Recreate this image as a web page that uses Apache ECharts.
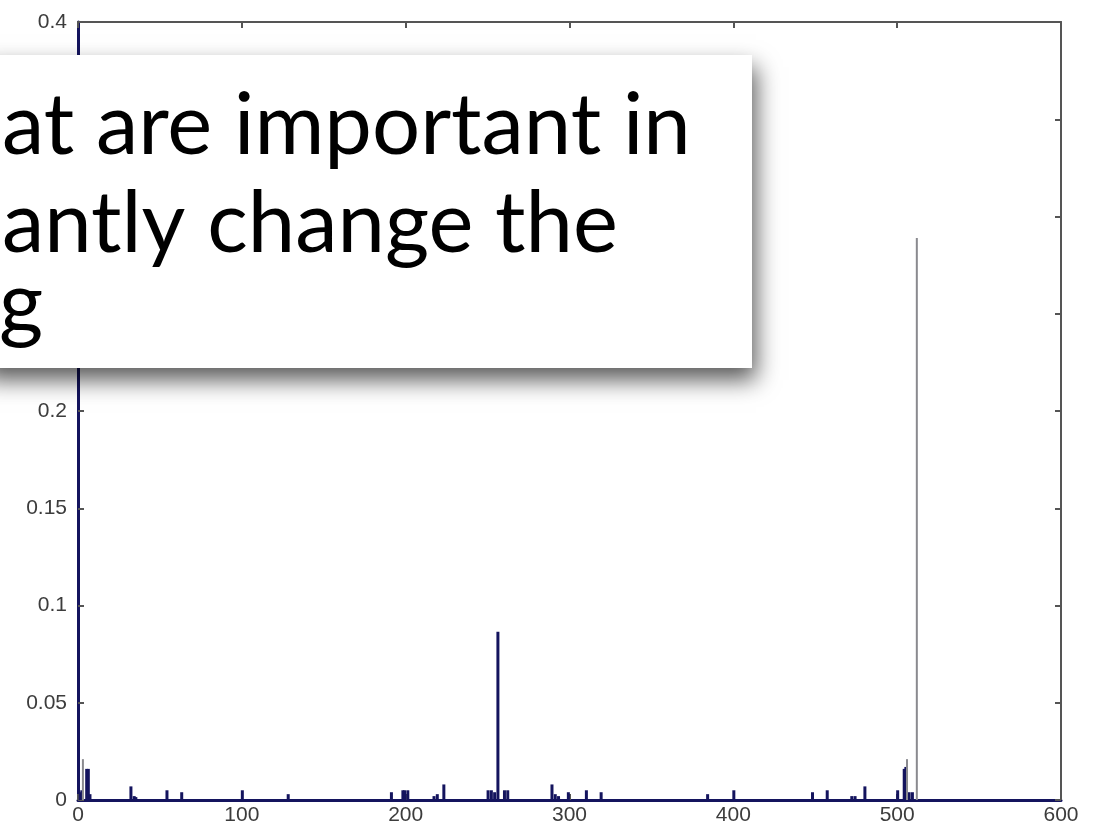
<!DOCTYPE html>
<html>
<head>
<meta charset="utf-8">
<script src="https://cdn.jsdelivr.net/npm/echarts@6/dist/echarts.min.js"></script>
<style>
  html, body { margin: 0; padding: 0; background: #ffffff; }
  #chart { width: 1099px; height: 831px; }
</style>
</head>
<body>
<div id="chart"></div>
<script>
// Histogram bins (bin index, weight) drawn in navy
const binIndex = [1, 2, 5, 6, 7, 32, 34, 35, 54, 63, 100, 128, 191, 198, 199, 201, 217, 219, 223,
  250, 252, 254, 256, 260, 262, 289, 291, 293, 299, 310, 319, 384, 400, 448, 457, 472, 474, 480,
  500, 504, 505, 507, 509];
const binValue = [0.004, 0.005, 0.016, 0.016, 0.003, 0.007, 0.002, 0.0015, 0.005, 0.004, 0.005, 0.003, 0.004, 0.005, 0.005, 0.005, 0.002, 0.003, 0.008,
  0.005, 0.005, 0.004, 0.0865, 0.005, 0.005, 0.008, 0.003, 0.002, 0.004, 0.005, 0.004, 0.003, 0.005, 0.004, 0.005, 0.002, 0.002, 0.007,
  0.005, 0.016, 0.017, 0.004, 0.004];
// Single-bin spikes that render as thin grey lines
const spikeIndex = [3, 506, 512];
const spikeValue = [0.021, 0.021, 0.289];

// Axis ticks
const xTicks = [0, 100, 200, 300, 400, 500, 600];
const yTicks = [0, 0.05, 0.1, 0.15, 0.2, 0.25, 0.3, 0.35, 0.4];

// Overlay slide text
const slideLines = ['at are important in', 'antly change the', 'g'];

const navy = '#14145e';
const frame = '#555555';
const labelFont = { color: '#3c3c3c', fontSize: 21, fontFamily: 'Liberation Sans' };
const slideFont = '400 85px Lato';

const chart = echarts.init(document.getElementById('chart'), null, { renderer: 'canvas' });

const xMin = xTicks[0], xMax = xTicks[xTicks.length - 1];
const yMin = yTicks[0], yMax = yTicks[yTicks.length - 1];

chart.setOption({
  backgroundColor: '#ffffff',
  animation: false,
  grid: { left: 78, right: 38, top: 22, bottom: 31 },
  xAxis: [
    {
      type: 'value', min: xMin, max: xMax, interval: 100, position: 'bottom',
      axisLine: { show: true, onZero: false, lineStyle: { color: navy, width: 3 } },
      axisTick: { show: true, inside: true, length: 6, lineStyle: { color: frame, width: 2 } },
      axisLabel: Object.assign({ margin: 5 }, labelFont),
      splitLine: { show: false }
    },
    {
      type: 'value', min: xMin, max: xMax, interval: 100, position: 'top',
      axisLine: { show: true, onZero: false, lineStyle: { color: frame, width: 2 } },
      axisTick: { show: true, inside: true, length: 6, lineStyle: { color: frame, width: 2 } },
      axisLabel: { show: false },
      splitLine: { show: false }
    }
  ],
  yAxis: [
    {
      type: 'value', min: yMin, max: yMax, interval: 0.05, position: 'left',
      axisLine: { show: true, onZero: false, lineStyle: { color: navy, width: 3 } },
      axisTick: { show: true, inside: true, length: 6, lineStyle: { color: frame, width: 2 } },
      axisLabel: Object.assign({ margin: 11, formatter: v => String(+v.toFixed(2)) }, labelFont),
      splitLine: { show: false }
    },
    {
      type: 'value', min: yMin, max: yMax, interval: 0.05, position: 'right',
      axisLine: { show: true, onZero: false, lineStyle: { color: frame, width: 2 } },
      axisTick: { show: true, inside: true, length: 6, lineStyle: { color: frame, width: 2 } },
      axisLabel: { show: false },
      splitLine: { show: false }
    }
  ],
  series: [
    {
      type: 'bar', xAxisIndex: 0, yAxisIndex: 0,
      barWidth: 3,
      itemStyle: { color: navy },
      data: binIndex.map((x, i) => [x, binValue[i]])
    },
    {
      type: 'bar', xAxisIndex: 0, yAxisIndex: 0,
      barWidth: 2, barGap: '-100%',
      itemStyle: { color: '#8a8a8f' },
      data: spikeIndex.map((x, i) => [x, spikeValue[i]])
    }
  ],
  graphic: [
    {
      type: 'rect', z: 100,
      shape: { x: -20, y: 55, width: 772, height: 313 },
      style: { fill: '#ffffff', shadowBlur: 22, shadowOffsetX: 4, shadowOffsetY: 12, shadowColor: 'rgba(0,0,0,0.65)' }
    },
    {
      type: 'text', z: 101, left: 2, top: 84,
      style: { text: slideLines[0], fill: '#000000', font: slideFont }
    },
    {
      type: 'text', z: 101, left: 2, top: 182,
      style: { text: slideLines[1], fill: '#000000', font: slideFont }
    },
    {
      type: 'text', z: 101, left: -1, top: 262,
      style: { text: slideLines[2], fill: '#000000', font: slideFont }
    }
  ]
});
</script>
</body>
</html>
